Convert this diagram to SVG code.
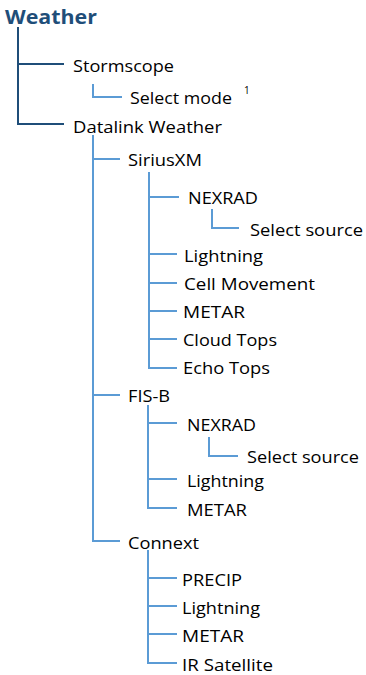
<svg xmlns="http://www.w3.org/2000/svg" width="366" height="675" viewBox="0 0 366 675">
<style>
text{font-family:"Open Sans","Liberation Sans",sans-serif;font-size:17px;fill:#000}
.t{font-family:"Open Sans","Liberation Sans",sans-serif;font-size:20px;font-weight:bold;fill:#1F4E79}
.sup{font-size:10px}
.d{stroke:#1F4E79;stroke-width:2;fill:none}
.l{stroke:#5B9BD5;stroke-width:2;fill:none}
</style>
<rect width="366" height="675" fill="#fff"/>
<g id="connectors">
<path class="d" d="M18 27V124H64M18 64H64"/>
<path class="l" d="M93 84V97H122"/>
<path class="l" d="M93 135V541H120M93 159H120M93 395H120"/>
<path class="l" d="M149 172V368H177M149 197H179M149 254H177M149 283H177M149 311H177M149 339H177"/>
<path class="l" d="M212 209V228H239"/>
<path class="l" d="M148 405V508H177M148 423H177M148 479H177"/>
<path class="l" d="M209 437V456H238"/>
<path class="l" d="M148 550V663H177M148 578H177M148 606H177M148 634H177"/>
</g>
<g id="n-weather"><text class="t" x="5" y="24" textLength="92" lengthAdjust="spacingAndGlyphs">Weather</text></g>
<g id="n-stormscope"><text x="73" y="72" textLength="101" lengthAdjust="spacingAndGlyphs">Stormscope</text></g>
<g id="n-selectmode"><text x="130" y="104" textLength="102" lengthAdjust="spacingAndGlyphs">Select mode</text><text class="sup" x="244" y="94">1</text></g>
<g id="n-datalink"><text x="73" y="133" textLength="149" lengthAdjust="spacingAndGlyphs">Datalink Weather</text></g>
<g id="n-siriusxm"><text x="128" y="166" textLength="74" lengthAdjust="spacingAndGlyphs">SiriusXM</text></g>
<g id="n-sxm-nexrad"><text x="188" y="204" textLength="70" lengthAdjust="spacingAndGlyphs">NEXRAD</text></g>
<g id="n-sxm-source"><text x="250" y="236" textLength="113" lengthAdjust="spacingAndGlyphs">Select source</text></g>
<g id="n-sxm-lightning"><text x="184" y="262" textLength="79" lengthAdjust="spacingAndGlyphs">Lightning</text></g>
<g id="n-sxm-cell"><text x="184" y="290" textLength="131" lengthAdjust="spacingAndGlyphs">Cell Movement</text></g>
<g id="n-sxm-metar"><text x="183" y="318" textLength="62" lengthAdjust="spacingAndGlyphs">METAR</text></g>
<g id="n-sxm-cloud"><text x="183" y="346" textLength="94" lengthAdjust="spacingAndGlyphs">Cloud Tops</text></g>
<g id="n-sxm-echo"><text x="183" y="374" textLength="87" lengthAdjust="spacingAndGlyphs">Echo Tops</text></g>
<g id="n-fisb"><text x="128" y="402" textLength="42" lengthAdjust="spacingAndGlyphs">FIS-B</text></g>
<g id="n-fisb-nexrad"><text x="187" y="431" textLength="69" lengthAdjust="spacingAndGlyphs">NEXRAD</text></g>
<g id="n-fisb-source"><text x="247" y="463" textLength="112" lengthAdjust="spacingAndGlyphs">Select source</text></g>
<g id="n-fisb-lightning"><text x="187" y="487" textLength="77" lengthAdjust="spacingAndGlyphs">Lightning</text></g>
<g id="n-fisb-metar"><text x="187" y="516" textLength="60" lengthAdjust="spacingAndGlyphs">METAR</text></g>
<g id="n-connext"><text x="128" y="549" textLength="71" lengthAdjust="spacingAndGlyphs">Connext</text></g>
<g id="n-cx-precip"><text x="182" y="586" textLength="60" lengthAdjust="spacingAndGlyphs">PRECIP</text></g>
<g id="n-cx-lightning"><text x="182" y="614" textLength="78" lengthAdjust="spacingAndGlyphs">Lightning</text></g>
<g id="n-cx-metar"><text x="182" y="642" textLength="62" lengthAdjust="spacingAndGlyphs">METAR</text></g>
<g id="n-cx-ir"><text x="182" y="671" textLength="91" lengthAdjust="spacingAndGlyphs">IR Satellite</text></g>
</svg>
